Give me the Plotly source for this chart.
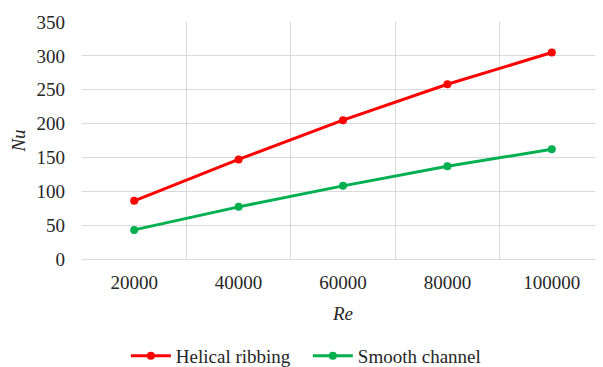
import plotly.graph_objects as go

re_labels = ["20000", "40000", "60000", "80000", "100000"]
helical = [86, 147, 205, 258, 305]
smooth = [43, 77, 108, 137, 162]
y_ticks = [0, 50, 100, 150, 200, 250, 300, 350]

FONT = "Times New Roman, Liberation Serif, DejaVu Serif, serif"

fig = go.Figure()
fig.add_trace(go.Scatter(x=re_labels, y=helical, mode="lines+markers", name="Helical ribbing",
                         line=dict(color="#ff0000", width=3), marker=dict(color="#ff0000", size=8)))
fig.add_trace(go.Scatter(x=re_labels, y=smooth, mode="lines+markers", name="Smooth channel",
                         line=dict(color="#00b050", width=3), marker=dict(color="#00b050", size=8)))

fig.update_layout(
    width=603, height=367,
    margin=dict(l=74, r=7, t=14, b=116, autoexpand=False),
    paper_bgcolor="white", plot_bgcolor="white",
    font=dict(family=FONT, size=19, color="#262626"),
    legend=dict(orientation="h", x=0.084, xanchor="left", yref="container", y=0.052, yanchor="middle",
                font=dict(family=FONT, size=19, color="#262626"), itemwidth=40,
                entrywidth=127, entrywidthmode="pixels"),
    xaxis=dict(type="category", tickson="boundaries", range=[-0.5, 4.5], showgrid=True, gridcolor="#d9d9d9",
               ticks="", showline=True, linecolor="#d9d9d9", zeroline=False, ticklabelstandoff=6,
               title=dict(text="<i>Re</i>", font=dict(family=FONT, size=19), standoff=14),
               tickfont=dict(family=FONT, size=19)),
    yaxis=dict(range=[0, 350], tickvals=y_ticks, showgrid=True, gridcolor="#d9d9d9",
               zeroline=False, showline=False, ticks="", ticklabelstandoff=16,
               title=dict(text="<i>Nu</i>", font=dict(family=FONT, size=19), standoff=10),
               tickfont=dict(family=FONT, size=19)),
)

fig.write_html("out.html")
